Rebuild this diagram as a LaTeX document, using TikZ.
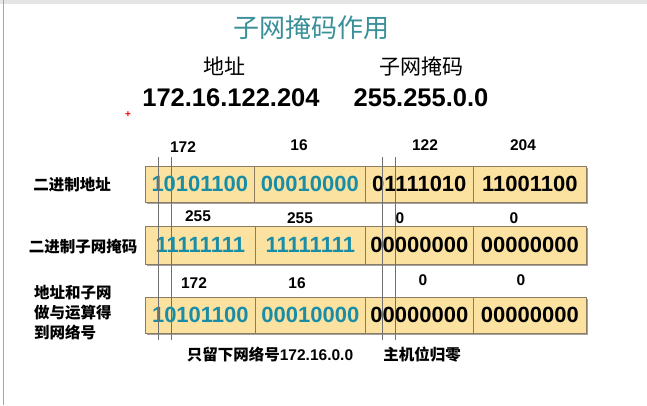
\documentclass[tikz,border=0pt]{standalone}
\usepackage{fontspec}
\setmainfont{Liberation Sans}
\newfontfamily\cjk{Noto Sans CJK SC}
\usetikzlibrary{shadows}
\definecolor{titleteal}{HTML}{3A9099}
\definecolor{digitteal}{HTML}{1A8DA6}
\definecolor{boxfill}{HTML}{FCE2A0}
\definecolor{boxline}{HTML}{8A7B62}
\definecolor{vline}{HTML}{707070}
\begin{document}
\begin{tikzpicture}[x=1pt,y=-1pt,
  cell/.style={draw=boxline, fill=boxfill, line width=0.7pt, inner sep=0pt, anchor=north west,
    drop shadow={shadow xshift=1.6pt, shadow yshift=-1.6pt, fill=black!45, opacity=0.8},
    font=\fontsize{22}{22}\selectfont\bfseries},
  tcell/.style={cell, text=digitteal},
  kcell/.style={cell, text=black},
  numlab/.style={font=\fontsize{15.5}{16}\selectfont\bfseries, inner sep=0pt},
  sidelab/.style={font=\cjk\fontsize{15.5}{20}\selectfont\bfseries, inner sep=0pt},
  head/.style={font=\cjk\fontsize{21}{22}\selectfont, inner sep=0pt},
  ipaddr/.style={font=\fontsize{25.5}{26}\selectfont\bfseries, inner sep=0pt},
  guide/.style={draw=vline, line width=0.7pt}]
\useasboundingbox (0,0) rectangle (647,405);
\fill[white] (0,0) rectangle (647,405);
% screen frame
\fill[black!10] (0,0) rectangle (647,4);
\draw[black!35, line width=1pt] (3,0) -- (3,405);
% title and headers
\node[font=\cjk\fontsize{26}{26}\selectfont, text=titleteal, inner sep=0pt] (title) at (311,28) {子网掩码作用};
\node[head] (haddr) at (224,66) {地址};
\node[head] (hmask) at (421,66) {子网掩码};
\node[ipaddr] (ip) at (231,98) {172.16.122.204};
\node[ipaddr] (mask) at (421,98) {255.255.0.0};
\node[text=red, font=\fontsize{10}{10}\selectfont\bfseries, inner sep=0pt] (plus) at (128,115) {+};
% side labels
\node[sidelab] (l1) at (72,185) {二进制地址};
\node[sidelab] (l2) at (83,247) {二进制子网掩码};
\node[sidelab, align=left, anchor=west] (l3) at (34,313) {地址和子网\\做与运算得\\到网络号};
% row 1
\node[tcell, minimum width=109pt, minimum height=36pt] (a1) at (145,166) {10101100};
\node[tcell, minimum width=111pt, minimum height=36pt] (a2) at (254,166) {00010000};
\node[kcell, minimum width=108pt, minimum height=36pt] (a3) at (365,166) {01111010};
\node[kcell, minimum width=113pt, minimum height=36pt] (a4) at (473,166) {11001100};
% row 2
\node[tcell, minimum width=110pt, minimum height=38pt] (m1) at (145,226) {11111111};
\node[tcell, minimum width=110pt, minimum height=38pt] (m2) at (255,226) {11111111};
\node[kcell, minimum width=108pt, minimum height=38pt] (m3) at (365,226) {00000000};
\node[kcell, minimum width=113pt, minimum height=38pt] (m4) at (473,226) {00000000};
% row 3
\node[tcell, minimum width=110pt, minimum height=36pt] (n1) at (145,297) {10101100};
\node[tcell, minimum width=110pt, minimum height=36pt] (n2) at (255,297) {00010000};
\node[kcell, minimum width=108pt, minimum height=36pt] (n3) at (365,297) {00000000};
\node[kcell, minimum width=113pt, minimum height=36pt] (n4) at (473,297) {00000000};
% decimal labels
\node[numlab] (d11) at (183,147) {172};
\node[numlab] (d12) at (299,145) {16};
\node[numlab] (d13) at (425,145) {122};
\node[numlab] (d14) at (523,145) {204};
\node[numlab] (d21) at (198,216) {255};
\node[numlab] (d22) at (300,218) {255};
\node[numlab] (d23) at (400,218) {0};
\node[numlab] (d24) at (514,218) {0};
\node[numlab] (d31) at (194,283) {172};
\node[numlab] (d32) at (297,283) {16};
\node[numlab] (d33) at (423,280) {0};
\node[numlab] (d34) at (521,280) {0};
% bottom notes
\node[inner sep=0pt, font=\bfseries\fontsize{15.5}{16}\selectfont] (note1) at (270,355) {{\cjk 只留下网络号}172.16.0.0};
\node[sidelab] (note2) at (422,355) {主机位归零};
% guide lines
\coordinate (g1t) at (158,157); \coordinate (g1b) at (158,340);
\coordinate (g2t) at (171,157); \coordinate (g2b) at (171,340);
\coordinate (g3t) at (382,157); \coordinate (g3b) at (382,340);
\coordinate (g4t) at (395,157); \coordinate (g4b) at (395,340);
\draw[guide] (g1t) -- (g1b);
\draw[guide] (g2t) -- (g2b);
\draw[guide] (g3t) -- (g3b);
\draw[guide] (g4t) -- (g4b);
\end{tikzpicture}
\end{document}
